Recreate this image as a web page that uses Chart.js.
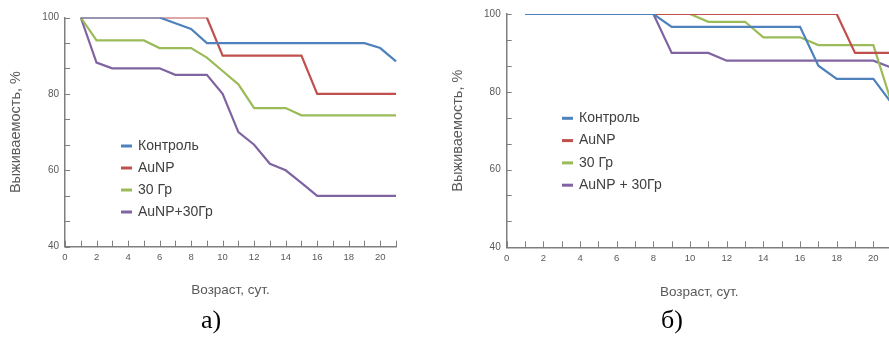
<!DOCTYPE html>
<html>
<head>
<meta charset="utf-8">
<script src="https://cdn.jsdelivr.net/npm/chart.js@4/dist/chart.umd.min.js"></script>
<style>
  html, body { margin: 0; padding: 0; background: #fff; }
  #wrap { position: relative; width: 889px; height: 340px; overflow: hidden; background: #fff; }
  canvas { position: absolute; top: 0; }
  #chartA { left: 0; }
  #chartB { left: 440px; }
  .cap { position: absolute; top: 305px; font-family: "Liberation Serif", "Times New Roman", serif; font-size: 26px; color: #000; }
</style>
</head>
<body>
<div id="wrap">
  <canvas id="chartA" width="410" height="310"></canvas>
  <canvas id="chartB" width="470" height="310"></canvas>
  <div class="cap" style="left:201px">а)</div>
  <div class="cap" style="left:661px">б)</div>
</div>
<script>
// дни наблюдения
const days = [1, 2, 3, 4, 5, 6, 7, 8, 9, 10, 11, 12, 13, 14, 15, 16, 17, 18, 19, 20, 21];
const groupNames = ["Контроль", "AuNP", "30 Гр", "AuNP+30Гр"];
const groupNamesB = ["Контроль", "AuNP", "30 Гр", "AuNP + 30Гр"];
const colors = ["#4f81bd", "#c0504d", "#9bbb59", "#8064a2"];

// выживаемость, % — панель а)
const controlA = [100, 100, 100, 100, 100, 100, 98.5, 97, 93.3, 93.3, 93.3, 93.3, 93.3, 93.3, 93.3, 93.3, 93.3, 93.3, 93.3, 92, 88.5];
const aunpA    = [100, 100, 100, 100, 100, 100, 100, 100, 100, 90, 90, 90, 90, 90, 90, 80, 80, 80, 80, 80, 80];
const gyA      = [100, 94, 94, 94, 94, 92, 92, 92, 89.5, 86, 82.5, 76.3, 76.3, 76.3, 74.4, 74.4, 74.4, 74.4, 74.4, 74.4, 74.4];
const comboA   = [100, 88.2, 86.7, 86.7, 86.7, 86.7, 85, 85, 85, 80, 70, 66.7, 61.7, 60, 56.7, 53.3, 53.3, 53.3, 53.3, 53.3, 53.3];

// выживаемость, % — панель б)
const controlB = [100, 100, 100, 100, 100, 100, 100, 100, 96.7, 96.7, 96.7, 96.7, 96.7, 96.7, 96.7, 96.7, 86.7, 83.3, 83.3, 83.3, 77];
const aunpB    = [100, 100, 100, 100, 100, 100, 100, 100, 100, 100, 100, 100, 100, 100, 100, 100, 100, 100, 90, 90, 90];
const gyB      = [100, 100, 100, 100, 100, 100, 100, 100, 100, 100, 98, 98, 98, 94, 94, 94, 92, 92, 92, 92, 77];
const comboB   = [100, 100, 100, 100, 100, 100, 100, 100, 90, 90, 90, 88, 88, 88, 88, 88, 88, 88, 88, 88, 86.2];

const axisColor = "#7f7f7f";
const textColor = "#595959";

// засечки внутрь области графика, как в Excel
const insideTicks = {
  id: "insideTicks",
  afterDraw(chart) {
    const ctx = chart.ctx;
    const {x, y} = chart.scales;
    ctx.save();
    ctx.strokeStyle = axisColor;
    ctx.lineWidth = 1;
    ctx.beginPath();
    y.ticks.forEach(t => {
      const py = Math.round(y.getPixelForValue(t.value)) + 0.5;
      ctx.moveTo(x.left, py);
      ctx.lineTo(x.left + 5, py);
    });
    x.ticks.forEach(t => {
      const px = Math.round(x.getPixelForValue(t.value)) + 0.5;
      ctx.moveTo(px, y.bottom);
      ctx.lineTo(px, y.bottom - 6);
    });
    ctx.stroke();
    ctx.restore();
  }
};

// легенда внутри поля графика
const floatLegend = {
  id: "floatLegend",
  afterDraw(chart, args, opts) {
    const ctx = chart.ctx;
    ctx.save();
    ctx.font = "14px 'Liberation Sans', Arial, sans-serif";
    ctx.textBaseline = "middle";
    chart.data.datasets.forEach((ds, i) => {
      const cy = opts.y + i * opts.gap;
      ctx.fillStyle = ds.borderColor;
      ctx.fillRect(opts.x, cy - 1.5, 11, 3);
      ctx.fillStyle = "#404040";
      ctx.fillText(ds.label, opts.x + 17, cy);
    });
    ctx.restore();
  }
};

function makeChart(id, names, series, box) {
  const datasets = series.map((vals, i) => ({
    label: names[i],
    data: days.map((d, k) => ({x: d, y: vals[k]})),
    borderColor: colors[i],
    backgroundColor: colors[i],
    borderWidth: 2.2,
    pointRadius: 0,
    tension: 0,
    clip: {left: 2, top: 0, right: 2, bottom: 2}
  }));
  return new Chart(document.getElementById(id), {
    type: "line",
    data: {datasets},
    options: {
      animation: false,
      responsive: false,
      maintainAspectRatio: false,
      layout: {padding: box.padding},
      plugins: {
        legend: {display: false},
        tooltip: {enabled: false},
        floatLegend: box.legend
      },
      scales: {
        x: {
          type: "linear",
          min: 0,
          max: 21,
          grid: {display: false, drawTicks: false},
          border: {display: true, color: axisColor, width: 1.5},
          ticks: {
            stepSize: 1,
            autoSkip: false,
            maxRotation: 0,
            padding: 5,
            color: textColor,
            font: {family: "'Liberation Sans', Arial, sans-serif", size: 9.5},
            callback: v => (v % 2 === 0 ? String(v) : "")
          },
          title: {
            display: true,
            text: "Возраст, сут.",
            color: textColor,
            font: {family: "'Liberation Sans', Arial, sans-serif", size: 13.5},
            padding: {top: 0, bottom: 0}
          },
          afterFit: s => { s.height = box.xHeight; }
        },
        y: {
          min: 40,
          max: 100,
          grid: {display: false, drawTicks: false},
          border: {display: true, color: axisColor, width: 1.5},
          ticks: {
            stepSize: 20 / 3,
            autoSkip: false,
            padding: 6,
            color: textColor,
            font: {family: "'Liberation Sans', Arial, sans-serif", size: 10},
            callback: v => {
              const r = Math.round(v);
              return Math.abs(v - r) < 0.01 && r % 20 === 0 ? String(r) : "";
            }
          },
          title: {
            display: true,
            text: "Выживаемость, %",
            color: textColor,
            font: {family: "'Liberation Sans', Arial, sans-serif", size: 14.5},
            padding: {top: box.yTitlePad, bottom: 0}
          },
          afterFit: s => { s.width = box.yWidth; }
        }
      }
    },
    plugins: [insideTicks, floatLegend]
  });
}

makeChart("chartA", groupNames, [controlA, aunpA, gyA, comboA], {
  padding: {left: 0, top: 17.5, right: 14, bottom: 12},
  xHeight: 51.3,
  yWidth: 65,
  yTitlePad: 7,
  legend: {x: 121, y: 146, gap: 22}
});

makeChart("chartB", groupNamesB, [controlB, aunpB, gyB, comboB], {
  padding: {left: 0, top: 14, right: 18.3, bottom: 10},
  xHeight: 52.7,
  yWidth: 66.7,
  yTitlePad: 9,
  legend: {x: 122, y: 118.3, gap: 22.3}
});
</script>
</body>
</html>
